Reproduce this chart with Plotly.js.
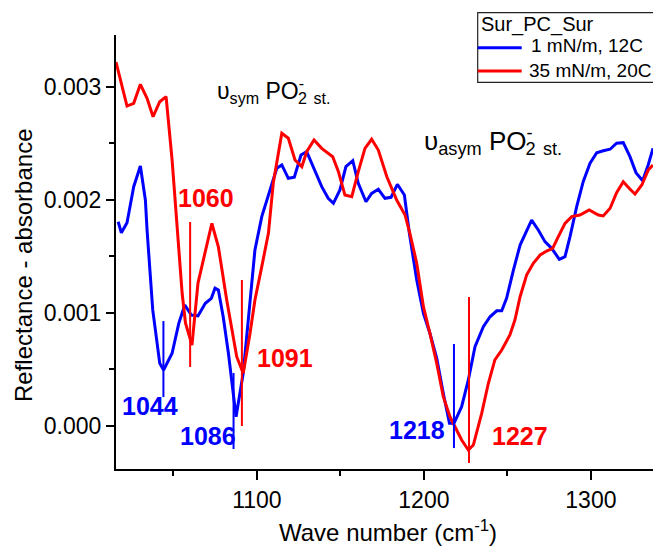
<!DOCTYPE html>
<html>
<head>
<meta charset="utf-8">
<script src="https://cdn.plot.ly/plotly-3.0.1.min.js"></script>
<style>
  html, body { margin: 0; padding: 0; background: #fff; }
  #chart { width: 653px; height: 548px; }
</style>
</head>
<body>
<div id="chart"></div>
<script>
// IRRAS spectra of Sur_PC_Sur monolayers, PO2- stretching region
const seriesNames = ['1 mN/m, 12C', '35 mN/m, 20C'];
const legendTitle = 'Sur_PC_Sur';

// 1 mN/m, 12C
const waveBlue = [1016.9, 1018.8, 1022.2, 1026.2, 1030.2, 1033.2, 1034.2, 1037.6, 1041.8, 1044.1,
  1049.2, 1053.2, 1056.8, 1060.7, 1064.7, 1069.1, 1072.7, 1074.9, 1076.9, 1079.8,
  1082.9, 1084.9, 1087.5, 1091.8, 1095.9, 1098.8, 1102.9, 1107.9, 1111.9, 1114.9,
  1118.8, 1122.4, 1126.4, 1129.8, 1133.8, 1138.8, 1142.7, 1145.8, 1149.7, 1153.3,
  1157.4, 1160.7, 1165.3, 1168.7, 1172.7, 1176.7, 1180.3, 1184.1, 1188.3, 1191.3,
  1195.7, 1199.7, 1203.6, 1207.7, 1211.6, 1215.3, 1218.0, 1222.6, 1226.6, 1230.6,
  1235.6, 1239.6, 1243.6, 1246.6, 1249.5, 1251.5, 1253.6, 1257.6, 1261.2, 1264.5,
  1268.5, 1272.5, 1276.5, 1281.1, 1284.5, 1287.5, 1291.5, 1295.4, 1299.5, 1303.5,
  1307.4, 1311.5, 1315.4, 1319.4, 1323.4, 1327.0, 1331.0, 1334.3, 1337.2];
const absBlue = [0.001806, 0.001709, 0.001798, 0.002116, 0.002299, 0.001998, 0.001733, 0.001026, 0.000554, 0.000495,
  0.000643, 0.000908, 0.001070, 0.000981, 0.000973, 0.001085, 0.001129, 0.001218, 0.001202, 0.000966,
  0.000645, 0.000407, 0.000082, 0.000469, 0.001114, 0.001556, 0.001851, 0.002087, 0.002279, 0.002308,
  0.002190, 0.002199, 0.002396, 0.002425, 0.002293, 0.002116, 0.002013, 0.001969, 0.002087, 0.002293,
  0.002346, 0.002146, 0.001983, 0.002057, 0.002093, 0.002013, 0.002022, 0.002137, 0.002042, 0.001704,
  0.001291, 0.000996, 0.000820, 0.000599, 0.000289, 0.000024, 0.000024, 0.000171, 0.000407, 0.000701,
  0.000878, 0.000966, 0.001019, 0.001019, 0.001129, 0.001262, 0.001379, 0.001600, 0.001718, 0.001821,
  0.001733, 0.001630, 0.001571, 0.001474, 0.001497, 0.001674, 0.001939, 0.002160, 0.002323, 0.002416,
  0.002434, 0.002447, 0.002500, 0.002505, 0.002381, 0.002240, 0.002169, 0.002308, 0.002455];

// 35 mN/m, 20C
const waveRed = [1015.6, 1022.2, 1026.2, 1030.2, 1034.2, 1037.8, 1041.8, 1045.6, 1049.2, 1053.2,
  1055.2, 1057.2, 1061.1, 1064.7, 1068.7, 1073.0, 1076.9, 1081.9, 1087.9, 1091.8,
  1095.9, 1098.8, 1102.9, 1106.9, 1109.8, 1114.9, 1118.8, 1122.8, 1126.9, 1129.8,
  1134.2, 1138.8, 1145.4, 1148.8, 1152.7, 1156.8, 1160.7, 1164.7, 1168.7, 1172.7,
  1177.8, 1183.7, 1188.7, 1191.6, 1195.7, 1199.7, 1203.6, 1207.7, 1211.6, 1215.6,
  1219.6, 1222.6, 1226.6, 1229.6, 1234.6, 1238.6, 1242.5, 1246.6, 1251.5, 1254.5,
  1257.6, 1261.5, 1265.5, 1269.6, 1273.5, 1277.1, 1280.5, 1284.5, 1288.5, 1293.4,
  1299.0, 1304.5, 1307.4, 1311.5, 1315.4, 1319.4, 1322.9, 1326.4, 1330.5, 1334.3, 1337.2];
const absRed = [0.003218, 0.002829, 0.002853, 0.003021, 0.002897, 0.002735, 0.002867, 0.002912, 0.002352, 0.001556,
  0.001176, 0.000911, 0.000716, 0.001264, 0.001530, 0.001792, 0.001585, 0.001114, 0.000613, 0.000466,
  0.000822, 0.001114, 0.001409, 0.001706, 0.002149, 0.002588, 0.002544, 0.002352, 0.002293, 0.002425,
  0.002529, 0.002455, 0.002381, 0.002249, 0.002042, 0.002027, 0.002249, 0.002455, 0.002535, 0.002440,
  0.002204, 0.001998, 0.001866, 0.001704, 0.001439, 0.001055, 0.000820, 0.000554, 0.000259, 0.000082,
  -0.000035, -0.000124, -0.000212, -0.000168, 0.000112, 0.000378, 0.000584, 0.000672, 0.000805, 0.000937,
  0.001143, 0.001335, 0.001439, 0.001512, 0.001547, 0.001571, 0.001674, 0.001792, 0.001851, 0.001866,
  0.001910, 0.001866, 0.001857, 0.001925, 0.002063, 0.002160, 0.002102, 0.002051, 0.002131, 0.002263, 0.002308];

// Peak markers: position (cm-1), vertical extent, owning series (0 = blue, 1 = red)
const peakPos    = [1044, 1060, 1086, 1091, 1218, 1227];
const peakTop    = [0.000928, 0.001804, 0.000469, 0.001291, 0.000725, 0.001141];
const peakBottom = [0.000256, 0.000522, -0.000203, 0.000000, -0.000195, -0.000327];
const peakSeries = [0, 1, 0, 1, 0, 1];
// where each peak label sits (cm-1, absorbance)
const peakLabelX = [1036.0, 1069.7, 1070.7, 1117.0, 1195.9, 1257.7];
const peakLabelY = [0.000177, 0.002020, -0.000084, 0.000604, -0.000031, -0.000088];

const yTicks = [0, 0.001, 0.002, 0.003];
const xTicks = [1100, 1200, 1300];

const FONT = 'Liberation Sans, Arial, Helvetica, sans-serif';
const colors = ['#0000FF', '#FF0000'];

const traces = [
  { x: waveBlue, y: absBlue, name: seriesNames[0], type: 'scatter', mode: 'lines',
    line: { color: colors[0], width: 3 } },
  { x: waveRed, y: absRed, name: seriesNames[1], type: 'scatter', mode: 'lines',
    line: { color: colors[1], width: 3 } }
];

peakPos.forEach((p, i) => {
  traces.push({
    x: [p, p], y: [peakBottom[i], peakTop[i]], type: 'scatter', mode: 'lines',
    line: { color: colors[peakSeries[i]], width: 2 }, hoverinfo: 'skip', showlegend: false
  });
});

const annotations = peakPos.map((p, i) => ({
  x: peakLabelX[i], y: peakLabelY[i], xref: 'x', yref: 'y',
  text: '<b>' + String(p) + '</b>', showarrow: false,
  xanchor: 'center', yanchor: 'middle',
  font: { family: FONT, size: 25, color: colors[peakSeries[i]] }
}));

// band assignments; the charge sign is pulled back so it sits over the subscript 2
annotations.push(
  { x: 1074.9, y: 0.002945, xref: 'x', yref: 'y', xanchor: 'left', yanchor: 'middle', showarrow: false,
    text: 'υ<sub>sym</sub> PO<sup style="letter-spacing:-6px">-</sup><sub>2</sub> <sub>st.</sub>',
    font: { family: FONT, size: 23, color: '#000' } },
  { x: 1198.9, y: 0.002510, xref: 'x', yref: 'y', xanchor: 'left', yanchor: 'middle', showarrow: false,
    text: 'υ<sub>asym</sub> PO<sup style="letter-spacing:-7px">-</sup><sub>2</sub> <sub>st.</sub>',
    font: { family: FONT, size: 26, color: '#000' } }
);

// plot-area pixel helpers for the boxed key and axis titles
const PL = 116, PR = 653, PT = 35, PB = 469;
const px = v => (v - PL) / (PR - PL);
const py = v => (PB - v) / (PB - PT);

const shapes = [
  { type: 'rect', xref: 'paper', yref: 'paper', x0: px(477.7), x1: px(760), y0: py(82.3), y1: py(12.7),
    line: { color: '#222', width: 1.2 }, fillcolor: 'rgba(255,255,255,0)' },
  { type: 'line', xref: 'paper', yref: 'paper', x0: px(477.7), x1: px(521.7), y0: py(47.7), y1: py(47.7),
    line: { color: colors[0], width: 3 } },
  { type: 'line', xref: 'paper', yref: 'paper', x0: px(477.7), x1: px(521.7), y0: py(71), y1: py(71),
    line: { color: colors[1], width: 3 } }
];
annotations.push(
  { x: px(478.5), y: py(24.5), xref: 'paper', yref: 'paper', xanchor: 'left', yanchor: 'middle',
    showarrow: false, text: legendTitle, font: { family: FONT, size: 20, color: '#000' } },
  { x: px(529), y: py(46), xref: 'paper', yref: 'paper', xanchor: 'left', yanchor: 'middle',
    showarrow: false, text: seriesNames[0], font: { family: FONT, size: 19, color: '#000' } },
  { x: px(526.5), y: py(70.5), xref: 'paper', yref: 'paper', xanchor: 'left', yanchor: 'middle',
    showarrow: false, text: seriesNames[1], font: { family: FONT, size: 19, color: '#000' } },
  // axis titles
  { x: px(388), y: py(531), xref: 'paper', yref: 'paper', xanchor: 'center', yanchor: 'middle',
    showarrow: false, text: 'Wave number (cm<sup>-1</sup>)', font: { family: FONT, size: 24, color: '#000' } },
  { x: px(23.5), y: py(265.5), xref: 'paper', yref: 'paper', xanchor: 'center', yanchor: 'middle',
    showarrow: false, textangle: -90, text: 'Reflectance - absorbance', font: { family: FONT, size: 24, color: '#000' } }
);

const layout = {
  width: 653, height: 548,
  margin: { l: PL, r: 653 - PR, t: PT, b: 548 - PB, pad: 0 },
  paper_bgcolor: '#fff', plot_bgcolor: '#fff',
  showlegend: false,
  font: { family: FONT, size: 23, color: '#000' },
  xaxis: {
    range: [1015.6, 1337.2], showgrid: false, zeroline: false,
    showline: true, linecolor: '#000', linewidth: 2,
    ticks: 'outside', ticklen: 9, tickwidth: 2, tickcolor: '#000',
    tickvals: xTicks, ticktext: xTicks.map(String),
    tickfont: { family: FONT, size: 23, color: '#000' },
    minor: { dtick: 50, tick0: 1000, ticks: 'outside', ticklen: 5, tickwidth: 2, tickcolor: '#000', showgrid: false },
    automargin: false
  },
  yaxis: {
    range: [-0.00038, 0.003457], showgrid: false, zeroline: false,
    showline: true, linecolor: '#000', linewidth: 2,
    ticks: 'outside', ticklen: 8, tickwidth: 2, tickcolor: '#000',
    tickvals: yTicks, ticktext: yTicks.map(v => v.toFixed(3)),
    tickfont: { family: FONT, size: 23, color: '#000' },
    minor: { dtick: 0.0005, tick0: 0, ticks: 'outside', ticklen: 5, tickwidth: 2, tickcolor: '#000', showgrid: false },
    automargin: false
  },
  shapes: shapes,
  annotations: annotations
};

Plotly.newPlot('chart', traces, layout, { staticPlot: true, displayModeBar: false });
</script>
</body>
</html>
